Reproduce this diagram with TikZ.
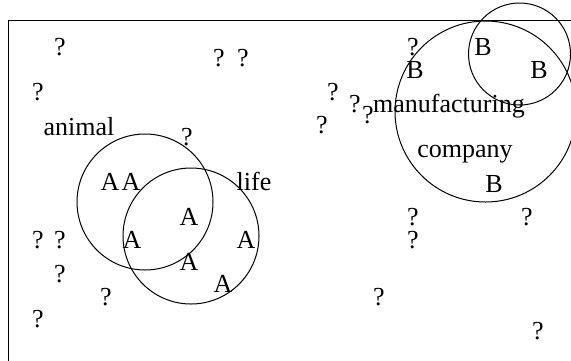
\documentclass[tikz,border=0pt]{standalone}
\usepackage{fontspec}
\setmainfont{Liberation Serif}
\usepackage{tikz}

\begin{document}
\begin{tikzpicture}[
x=0.5pt, y=-0.5pt,
txt/.style={font=\fontsize{13}{15}\selectfont, inner sep=0pt, anchor=base},
ring/.style={draw, line width=0.5pt} ]

\useasboundingbox (0,0) rectangle (571,360);
\clip (0,0) rectangle (571,360);

\draw[line width=0.5pt] (8.5,20) rectangle (600,400);

\draw[ring] (145,202) circle (68);
\draw[ring] (191,236) circle (68);
\draw[ring] (485.5,111.5) circle (90.5);
\draw[ring] (519.5,54) circle (51);

\node[txt](animal) at (79,135) {animal};
\node[txt](life) at (254,190) {life};
\node[txt](manuf) at (449,112) {manufacturing};
\node[txt](company) at (465,157) {company};

\node[txt](a1) at (110,190) {A};
\node[txt](a2) at (131,190) {A};
\node[txt](a3) at (189,225) {A};
\node[txt](a4) at (132,248) {A};
\node[txt](a5) at (246,248) {A};
\node[txt](a6) at (189,270) {A};
\node[txt](a7) at (223,292) {A};

\node[txt](b1) at (415,78) {B};
\node[txt](b2) at (483,55) {B};
\node[txt](b3) at (539,78) {B};
\node[txt](b4) at (494,192) {B};

\node[txt](q1) at (60,55) {?};
\node[txt](q2) at (219,66) {?};
\node[txt](q3) at (243,66) {?};
\node[txt](q4) at (38,100) {?};
\node[txt](q5) at (187,145) {?};
\node[txt](q6) at (38,248) {?};
\node[txt](q7) at (60,248) {?};
\node[txt](q8) at (60,282) {?};
\node[txt](q9) at (106,305) {?};
\node[txt](q10) at (38,327) {?};
\node[txt](q11) at (413,55) {?};
\node[txt](q12) at (333,100) {?};
\node[txt](q13) at (355,112) {?};
\node[txt](q14) at (368,123) {?};
\node[txt](q15) at (322,133) {?};
\node[txt](q16) at (413,225) {?};
\node[txt](q17) at (413,248) {?};
\node[txt](q18) at (527,225) {?};
\node[txt](q19) at (379,305) {?};
\node[txt](q20) at (538,339) {?};

\end{tikzpicture}
\end{document}
